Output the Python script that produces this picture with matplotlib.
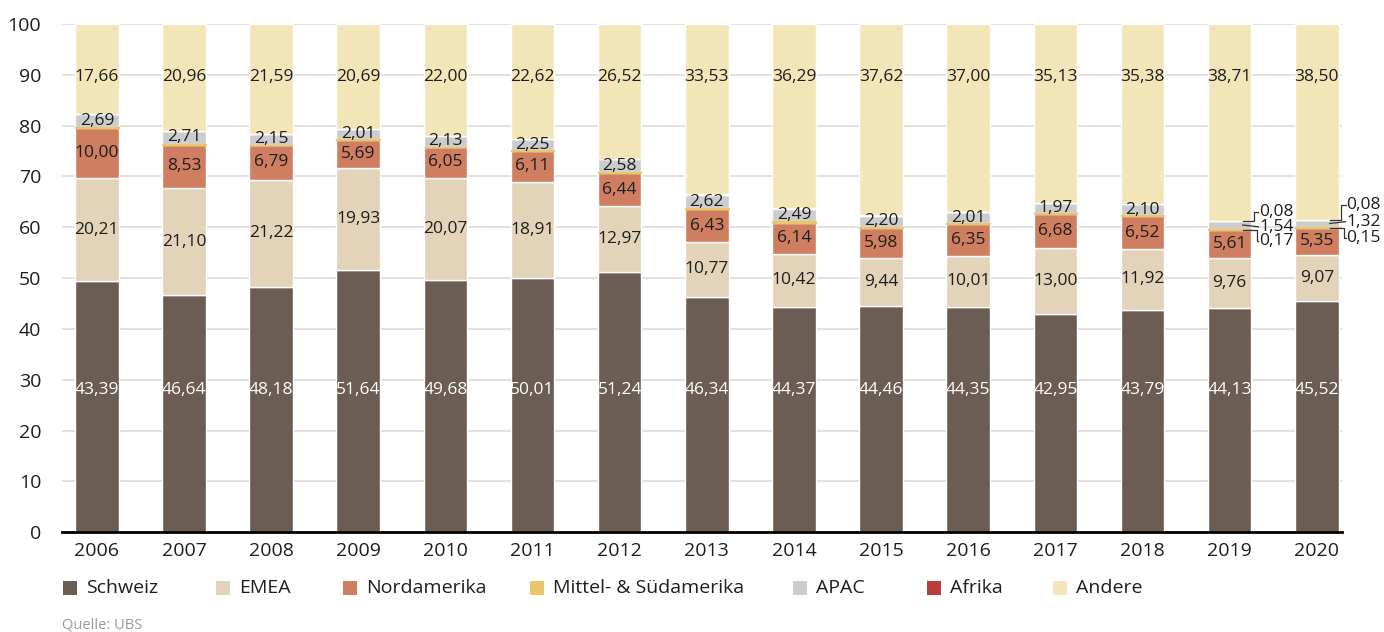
import numpy as np
import matplotlib.pyplot as plt
from matplotlib.patches import Rectangle

plt.rcParams["font.family"] = ["Open Sans", "DejaVu Sans"]

# data (percent shares per year)
years = ["2006", "2007", "2008", "2009", "2010", "2011", "2012", "2013",
         "2014", "2015", "2016", "2017", "2018", "2019", "2020"]
schweiz = [49.39, 46.64, 48.18, 51.64, 49.68, 50.01, 51.24, 46.34,
           44.37, 44.46, 44.35, 42.95, 43.79, 44.13, 45.52]
# printed labels for Schweiz (2006 is printed as 43,39 in the source)
schweiz_labels = ["43,39", "46,64", "48,18", "51,64", "49,68", "50,01", "51,24", "46,34",
                  "44,37", "44,46", "44,35", "42,95", "43,79", "44,13", "45,52"]
emea = [20.21, 21.10, 21.22, 19.93, 20.07, 18.91, 12.97, 10.77,
        10.42, 9.44, 10.01, 13.00, 11.92, 9.76, 9.07]
nordamerika = [10.00, 8.53, 6.79, 5.69, 6.05, 6.11, 6.44, 6.43,
               6.14, 5.98, 6.35, 6.68, 6.52, 5.61, 5.35]
mittel_sued = [0.04, 0.05, 0.05, 0.03, 0.05, 0.08, 0.18, 0.22,
               0.21, 0.22, 0.20, 0.19, 0.21, 0.17, 0.15]
apac = [2.69, 2.71, 2.15, 2.01, 2.13, 2.25, 2.58, 2.62,
        2.49, 2.20, 2.01, 1.97, 2.10, 1.54, 1.32]
afrika = [0.01, 0.01, 0.02, 0.01, 0.02, 0.02, 0.07, 0.09,
          0.08, 0.08, 0.08, 0.08, 0.08, 0.08, 0.08]
andere = [17.66, 20.96, 21.59, 20.69, 22.00, 22.62, 26.52, 33.53,
          36.29, 37.62, 37.00, 35.13, 35.38, 38.71, 38.50]

series = [
    ("Schweiz", schweiz, "#6b5d53"),
    ("EMEA", emea, "#e2d3b9"),
    ("Nordamerika", nordamerika, "#cf7e5f"),
    ("Mittel- & Südamerika", mittel_sued, "#e8c66a"),
    ("APAC", apac, "#cccccc"),
    ("Afrika", afrika, "#b5403a"),
    ("Andere", andere, "#f2e6b9"),
]


def fmt(v):
    return f"{v:.2f}".replace(".", ",")


fig = plt.figure(figsize=(13.84, 6.32), dpi=100)
ax = fig.add_axes([0.0448, 0.158, 0.9249, 0.804])

x = np.arange(len(years))
width = 0.5
bottom = np.zeros(len(years))
tops = {}
bottoms = {}
for name, vals, color in series:
    vals = np.array(vals)
    if name == "Mittel- & Südamerika":
        ax.bar(x, vals, width, bottom=bottom, color=color,
               edgecolor=color, linewidth=1.0, zorder=3)
    else:
        ax.bar(x, vals, width, bottom=bottom, color=color,
               edgecolor="white", linewidth=1.0, zorder=2)
    bottoms[name] = bottom.copy()
    bottom = bottom + vals
    tops[name] = bottom.copy()

txt = "#1e1e1e"
lab_size = 12.5
for i in range(len(years)):
    ax.text(x[i], 28, schweiz_labels[i], ha="center", va="center",
            color="white", fontsize=lab_size, zorder=5)
    for name, vals in [("EMEA", emea), ("Nordamerika", nordamerika)]:
        yc = (bottoms[name][i] + tops[name][i]) / 2
        ax.text(x[i], yc, fmt(vals[i]), ha="center", va="center",
                color=txt, fontsize=lab_size, zorder=5)
    ax.text(x[i], 89.6, fmt(andere[i]), ha="center", va="center",
            color=txt, fontsize=lab_size, zorder=5)
    if i < 13:
        yc = (bottoms["APAC"][i] + tops["APAC"][i]) / 2
        ax.text(x[i], yc, fmt(apac[i]), ha="center", va="center",
                color=txt, fontsize=lab_size, zorder=5)

# leader labels for the thin segments in 2019 and 2020
lead_y = {13: (63.0, 60.1, 57.2), 14: (64.3, 61.1, 57.9)}
for i, (y_af, y_ap, y_ms) in lead_y.items():
    xr = x[i] + width / 2
    xs = xr - 0.1
    xk = xr + 0.03
    xl = xr + 0.08
    lk = dict(color="#333333", lw=0.9, zorder=6, clip_on=False)
    # Afrika (top of APAC)
    ya = tops["APAC"][i] + afrika[i] / 2
    ax.plot([xs, xk, xk, xl], [ya, ya, y_af, y_af], **lk)
    ax.text(xl + 0.01, y_af, fmt(afrika[i]), ha="left", va="center",
            color=txt, fontsize=lab_size, zorder=6)
    # APAC
    yp = (bottoms["APAC"][i] + tops["APAC"][i]) / 2
    ax.plot([xs, xl], [yp, y_ap], **lk)
    ax.text(xl + 0.01, y_ap, fmt(apac[i]), ha="left", va="center",
            color=txt, fontsize=lab_size, zorder=6)
    # Mittel- & Suedamerika
    ym = bottoms["Mittel- & Südamerika"][i]
    ax.plot([xs, xk + 0.03, xk + 0.03, xl], [ym, ym, y_ms, y_ms], **lk)
    ax.text(xl + 0.01, y_ms, fmt(mittel_sued[i]), ha="left", va="center",
            color=txt, fontsize=lab_size, zorder=6)

ax.set_xlim(-0.4, 14.29)
ax.set_ylim(0, 100)
ax.set_yticks(np.arange(0, 101, 10))
ax.set_xticks(x)
ax.set_xticklabels(years)
ax.tick_params(axis="y", length=0, pad=15, labelsize=14, labelcolor=txt)
ax.tick_params(axis="x", length=0, pad=7, labelsize=14, labelcolor=txt)
ax.grid(axis="y", color="#dedede", linewidth=1.3, zorder=0)
ax.set_axisbelow(True)
for s in ["top", "right", "left"]:
    ax.spines[s].set_visible(False)
ax.spines["bottom"].set_color("black")
ax.spines["bottom"].set_linewidth(2)
ax.spines["bottom"].set_zorder(4)

# legend, laid out like the source
leg_x = [63, 216, 343, 530, 793, 927, 1053]
W, H = 1384, 632
for (name, _, color), lx in zip(series, leg_x):
    fig.add_artist(Rectangle((lx / W, 1 - 595 / H), 14 / W, 14 / H,
                             facecolor=color, edgecolor="none",
                             transform=fig.transFigure))
    fig.text((lx + 23) / W, 1 - 588 / H, name, ha="left", va="center",
             fontsize=14, color=txt)

fig.text(62 / W, 1 - 625 / H, "Quelle: UBS", ha="left", va="center",
         fontsize=10.5, color="#9a9a9a")

fig.savefig("out.png", dpi=100)
